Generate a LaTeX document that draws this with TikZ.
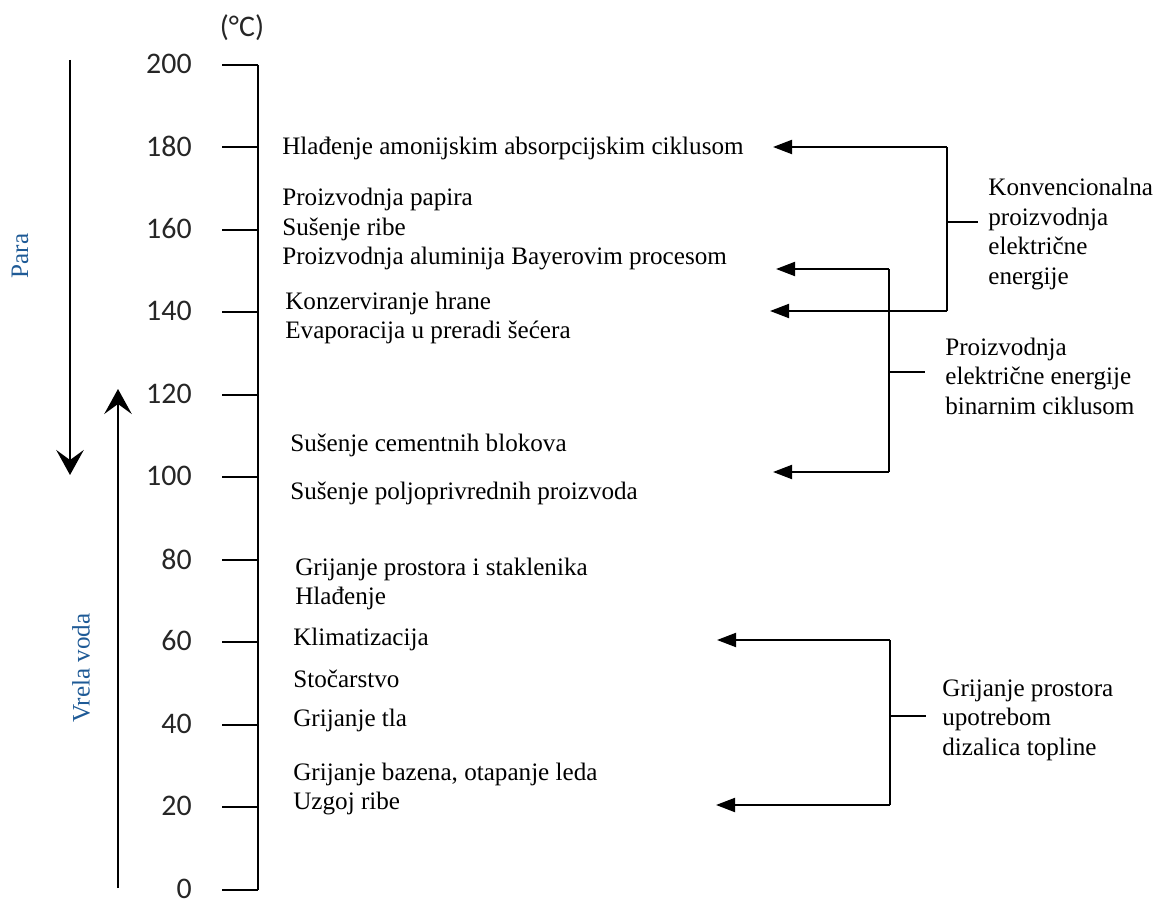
\documentclass[tikz,border=0pt]{standalone}
\usepackage{fontspec}
\setmainfont{Liberation Serif}
\newfontfamily\tickfont{Carlito}
\usetikzlibrary{arrows.meta}
\definecolor{flowblue}{RGB}{30,90,150}

\begin{document}
\begin{tikzpicture}
[x=0.02cm,y=-0.02cm,%
  tickLabel/.style={anchor=east,inner sep=0pt,text=black!85,font=\tickfont\fontsize{17}{17}\selectfont},%
  useText/.style={anchor=west,inner sep=0pt,align=left,font=\fontsize{14.3}{16.8}\selectfont},%
  flowText/.style={inner sep=0pt,rotate=90,text=flowblue,font=\fontsize{14.3}{16.8}\selectfont},%
  axisLine/.style={-,line width=1.1pt},%
  bracketLine/.style={-,line width=1.1pt},%
  bracketArrow/.style={-{Triangle[length=0.38cm,width=0.28cm]},line width=1.1pt},%
  flowArrow/.style={-{Stealth[length=0.5cm,width=0.55cm,inset=0.2cm]},line width=1pt}]
\useasboundingbox (0,0) rectangle (1162,901);

%% temperature axis
\coordinate (axisTop) at (258,65);
\coordinate (axisBottom) at (258,890);
\draw[axisLine] (axisTop) -- (axisBottom);
\foreach \t in {0,20,...,200}
{
  \coordinate (tick\t) at (258,{890-round(4.125*\t)});
  \node (lab\t) at (192,{889-round(4.125*\t)}) [tickLabel] {\t};
  \draw[axisLine] (tick\t) -- ++(-36,0);
}
\node (unit) at (242,28) [inner sep=0pt,text=black!85,font=\tickfont\fontsize{17}{17}\selectfont] {(°C)};

%% steam / hot water
\coordinate (paraStart) at (70,60);
\coordinate (paraEnd) at (70,475);
\draw[flowArrow] (paraStart) -- (paraEnd);
\node (para) at (20,256) [flowText] {Para};
\coordinate (vodaStart) at (118,888);
\coordinate (vodaEnd) at (118,389);
\draw[flowArrow] (vodaStart) -- (vodaEnd);
\node (voda) at (81,668) [flowText] {Vrela voda};

%% uses
\node (amonij) at (282,148) [useText] {Hlađenje amonijskim absorpcijskim ciklusom};
\node (papir) at (282,229) [useText] {Proizvodnja papira\\Sušenje ribe\\Proizvodnja aluminija Bayerovim procesom};
\node (hrana) at (285,318) [useText] {Konzerviranje hrane\\Evaporacija u preradi šećera};
\node (cement) at (290,445) [useText] {Sušenje cementnih blokova};
\node (poljo) at (290,493) [useText] {Sušenje poljoprivrednih proizvoda};
\node (staklenik) at (295,584) [useText] {Grijanje prostora i staklenika\\Hlađenje};
\node (klima) at (293,639) [useText] {Klimatizacija};
\node (stoka) at (293,679) [useText] {Stočarstvo};
\node (tlo) at (293,720) [useText] {Grijanje tla};
\node (bazen) at (293,789) [useText] {Grijanje bazena, otapanje leda\\Uzgoj ribe};

%% conventional power
\coordinate (konvTop) at (947,147);
\coordinate (konvBot) at (947,311);
\coordinate (konvTipA) at (773,147);
\coordinate (konvTipB) at (770,311);
\coordinate (konvMid) at (947,222);
\coordinate (konvStub) at (978,222);
\node (konv) at (988,234) [useText] {Konvencionalna\\proizvodnja\\električne\\energije};
\draw[bracketLine] (konvTop) -- (konvBot);
\draw[bracketArrow] (konvTop) -- (konvTipA);
\draw[bracketArrow] (konvBot) -- (konvTipB);
\draw[bracketLine] (konvMid) -- (konvStub);

%% binary cycle
\coordinate (binTop) at (889,269);
\coordinate (binBot) at (889,472);
\coordinate (binTipA) at (776,269);
\coordinate (binTipB) at (773,472);
\coordinate (binMid) at (889,372);
\coordinate (binStub) at (925,372);
\node (binar) at (945,376) [useText] {Proizvodnja\\električne energije\\binarnim ciklusom};
\draw[bracketLine] (binTop) -- (binBot);
\draw[bracketArrow] (binTop) -- (binTipA);
\draw[bracketArrow] (binBot) -- (binTipB);
\draw[bracketLine] (binMid) -- (binStub);

%% heat pumps
\coordinate (dizTop) at (890,640);
\coordinate (dizBot) at (890,805);
\coordinate (dizTipA) at (717,640);
\coordinate (dizTipB) at (716,805);
\coordinate (dizMid) at (890,716);
\coordinate (dizStub) at (926,716);
\node (dizalica) at (942,720) [useText] {Grijanje prostora\\upotrebom\\dizalica topline};
\draw[bracketLine] (dizTop) -- (dizBot);
\draw[bracketArrow] (dizTop) -- (dizTipA);
\draw[bracketArrow] (dizBot) -- (dizTipB);
\draw[bracketLine] (dizMid) -- (dizStub);
\end{tikzpicture}
\end{document}
